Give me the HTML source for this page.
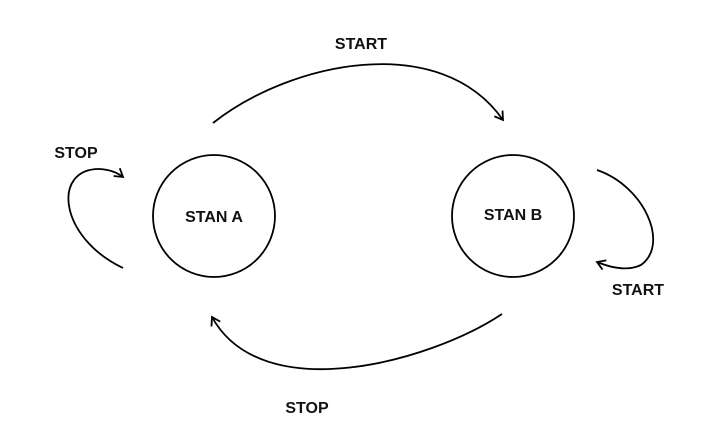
<!DOCTYPE html>
<html><head><meta charset="utf-8"><style>
html,body{margin:0;padding:0;background:#fff;width:724px;height:446px;overflow:hidden}
text{font-family:"Liberation Sans",Arial,sans-serif;font-weight:bold;font-size:16px;fill:#111}
</style></head><body>
<svg width="724" height="446" viewBox="0 0 724 446">
<defs><marker id="ah" markerWidth="12" markerHeight="12" refX="9" refY="6" orient="auto" markerUnits="userSpaceOnUse"><path d="M1,1 L9,6 L1,11" fill="none" stroke="#000" stroke-width="1.8"/></marker></defs>
<g fill="none" stroke="#000" stroke-width="1.8">
<circle cx="214" cy="216" r="61"/>
<circle cx="513" cy="216" r="61"/>
<path d="M213,123 C290,62 440,30 503,120" marker-end="url(#ah)"/>
<path d="M502,314 C430,362 262,408 212,317" marker-end="url(#ah)"/>
<path d="M123,268 C58,237 52,168 100,169 Q114,170 123,177" marker-end="url(#ah)"/>
<path d="M597,170 C644,186 670,244 641,265 Q624,273 597,262" marker-end="url(#ah)"/>
</g>
<text x="214" y="222" text-anchor="middle">STAN A</text>
<text x="513" y="220" text-anchor="middle">STAN B</text>
<text x="361" y="49" text-anchor="middle">START</text>
<text x="76" y="158" text-anchor="middle">STOP</text>
<text x="638" y="295" text-anchor="middle">START</text>
<text x="307" y="413" text-anchor="middle">STOP</text>
</svg>
</body></html>
